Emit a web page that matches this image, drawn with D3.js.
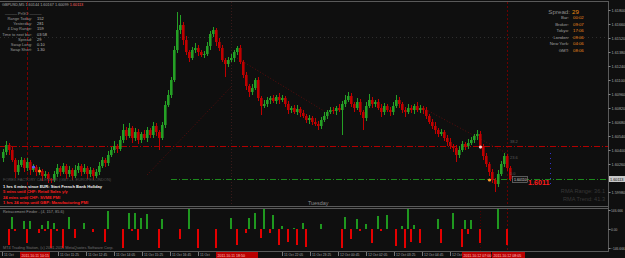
<!DOCTYPE html>
<html>
<head>
<meta charset="utf-8">
<script src="https://cdn.jsdelivr.net/npm/d3@7"></script>
<style>
  html, body { margin: 0; padding: 0; background: #0f0f0f; overflow: hidden; }
  svg { display: block; font-family: "Liberation Sans", Arial, sans-serif; }
</style>
</head>
<body>
<main></main>
<script>
// GBPUSD M5 candles (close prices, open = previous close)
const firstOpen = 1.6032;
const closes = [
  1.6038, 1.6045, 1.6040, 1.6030, 1.6018, 1.6025, 1.6030, 1.6022, 1.6028, 1.6020,
  1.6023, 1.6018, 1.6019, 1.6014, 1.6016, 1.6011, 1.6010, 1.6016, 1.6022, 1.6018,
  1.6024, 1.6016, 1.6020, 1.6014, 1.6020, 1.6024, 1.6018, 1.6022, 1.6016, 1.6020,
  1.6014, 1.6018, 1.6024, 1.6030, 1.6027, 1.6035, 1.6040, 1.6044, 1.6041, 1.6050,
  1.6060, 1.6054, 1.6062, 1.6052, 1.6058, 1.6050, 1.6056, 1.6052, 1.6060, 1.6055,
  1.6064, 1.6058, 1.6052, 1.6065, 1.6085, 1.6095, 1.6110, 1.6140, 1.6160, 1.6165,
  1.6150, 1.6138, 1.6132, 1.6140, 1.6142, 1.6138, 1.6135, 1.6136, 1.6144, 1.6156,
  1.6160, 1.6148, 1.6142, 1.6130, 1.6126, 1.6130, 1.6132, 1.6138, 1.6142, 1.6128,
  1.6115, 1.6104, 1.6098, 1.6102, 1.6110, 1.6092, 1.6084, 1.6086, 1.6090, 1.6092,
  1.6089, 1.6093, 1.6090, 1.6092, 1.6086, 1.6080, 1.6082, 1.6078, 1.6081, 1.6077,
  1.6074, 1.6070, 1.6072, 1.6068, 1.6066, 1.6064, 1.6070, 1.6074, 1.6078, 1.6080,
  1.6079, 1.6082, 1.6080, 1.6086, 1.6090, 1.6094, 1.6086, 1.6082, 1.6088, 1.6078,
  1.6072, 1.6084, 1.6090, 1.6086, 1.6088, 1.6082, 1.6078, 1.6084, 1.6080, 1.6078,
  1.6084, 1.6090, 1.6086, 1.6080, 1.6078, 1.6082, 1.6080, 1.6084, 1.6080, 1.6082,
  1.6080, 1.6074, 1.6068, 1.6064, 1.6060, 1.6056, 1.6058, 1.6052, 1.6048, 1.6044,
  1.6042, 1.6035, 1.6040, 1.6046, 1.6044, 1.6047, 1.6050, 1.6054, 1.6056, 1.6044,
  1.6034, 1.6026, 1.6018, 1.6010, 1.6006, 1.6016, 1.6026, 1.6034, 1.6022, 1.6011,
];
// wick lengths in pips above / below the body
const upWick = [
  3, 4, 2, 3, 2, 5, 3, 2, 4, 2, 3, 2, 4, 2, 3, 2, 1, 3, 4, 2,
  3, 2, 4, 2, 5, 3, 2, 4, 2, 3, 2, 3, 4, 3, 2, 4, 3, 5, 2, 4,
  6, 3, 5, 2, 4, 3, 2, 4, 3, 2, 4, 3, 2, 3, 4, 5, 3, 4, 18, 10,
  3, 4, 2, 3, 5, 3, 2, 3, 4, 3, 3, 2, 4, 3, 2, 3, 4, 2, 2, 3,
  2, 3, 2, 4, 2, 3, 2, 4, 3, 2, 3, 2, 4, 3, 2, 3, 2, 3, 4, 2,
  3, 2, 3, 2, 4, 3, 3, 4, 2, 3, 3, 2, 4, 3, 5, 4, 3, 2, 4, 3,
  2, 4, 6, 3, 2, 3, 4, 3, 2, 3, 4, 5, 3, 2, 3, 4, 3, 2, 4, 3,
  2, 3, 2, 3, 4, 2, 3, 2, 3, 4, 2, 3, 4, 3, 2, 4, 3, 2, 4, 3,
  2, 3, 2, 3, 2, 4, 3, 3, 2, 2,
];
const downWick = [
  4, 3, 5, 2, 6, 3, 2, 4, 3, 5, 2, 4, 3, 5, 2, 4, 3, 2, 3, 4,
  2, 5, 3, 4, 2, 3, 4, 2, 5, 3, 4, 2, 3, 2, 4, 3, 2, 3, 4, 2,
  3, 4, 2, 5, 3, 4, 3, 2, 4, 3, 3, 4, 12, 2, 3, 2, 3, 2, 3, 4,
  5, 3, 4, 2, 3, 4, 2, 3, 2, 4, 3, 4, 3, 2, 13, 3, 2, 4, 3, 2,
  3, 4, 5, 3, 2, 3, 9, 2, 3, 4, 2, 3, 4, 2, 3, 4, 3, 2, 3, 4,
  2, 3, 4, 3, 2, 4, 3, 2, 3, 2, 3, 4, 2, 25, 3, 2, 3, 4, 2, 3,
  12, 3, 2, 4, 3, 2, 5, 3, 2, 4, 3, 2, 4, 3, 5, 2, 3, 4, 2, 3,
  4, 3, 2, 3, 4, 3, 2, 3, 4, 3, 4, 7, 3, 2, 4, 3, 2, 3, 4, 3,
  4, 3, 4, 3, 8, 3, 2, 3, 3, 2,
];

// Retracement Finder histogram (bar index, value)
const histIndex = [
  2, 3, 4, 7, 8, 9, 12, 13, 14, 15, 16, 17, 18, 20, 22, 24, 27, 30, 34, 35,
  40, 42, 43, 44, 45, 46, 48, 52, 53, 59, 62, 65, 71, 76, 78, 81, 82, 84, 86, 87,
  89, 90, 92, 93, 95, 97, 98, 100, 101, 106, 113, 114, 116, 118, 119, 121, 123, 125, 126, 128,
  131, 133, 134, 135, 136, 137, 139, 145, 146, 150, 153, 154, 155, 156, 159, 165, 168,
];
const histValue = [
  -124, 93, -15, 62, -108, 62, -31, 31, -15, 62, -147, 46, -15, -147, 93, -70, 46, -23, -100, 139,
  -147, 124, -15, 124, -85, 85, 116, -147, 77, -77, 154, -147, -147, 85, -124, -31, 85, 124, -70, 154,
  -31, 108, -124, 23, -100, 8, -124, 46, -139, 39, -147, 93, -77, 77, -15, 39, -108, 100, -15, 108,
  -131, 23, -147, 154, -100, 31, -108, 77, -108, 124, -139, 70, -39, 70, -108, 154, -124,
];

const priceTicks = [1.618, 1.6166, 1.6152, 1.6138, 1.6124, 1.611, 1.6096, 1.6082,
  1.6068, 1.6054, 1.604, 1.6026, 1.5998];
const histTicks = [146.666, 0, -146.666];
const timeLabels = [
  "11 Oct 08:45", "11 Oct 10:05", "11 Oct 11:25", "11 Oct 12:45", "11 Oct 14:05",
  "11 Oct 15:25", "11 Oct 16:45", "11 Oct 18:05", "11 Oct 19:25", "11 Oct 20:45",
  "11 Oct 22:05", "11 Oct 23:25", "12 Oct 00:45", "12 Oct 02:05", "12 Oct 03:25",
  "12 Oct 04:45", "12 Oct 06:05", "12 Oct 07:25", "12 Oct 08:45",
];
const markedTimes = ["2011.10.11 10:15", "2011.10.11 18:50", "2011.10.12 07:00", "2011.10.12 08:05"];

const infoLabels = ["Range Today:", "Yesterday:", "4 Day Range:", "Time to next bar:", "Spread:", "Swap Long:", "Swap Short:"];
const infoValues = ["152", "281", "159", "03:58", "29", "0.10", "1.30"];
const sessionLabels = ["Bar:", "Broker:", "Tokyo:", "London:", "New York:", "GMT:"];
const sessionTimes = ["00:02", "09:07", "17:06", "09:06", "04:06", "08:06"];
const newsLines = [
  "1 hrs 6 mins since EUR: Start French Bank Holiday",
  "5 mins until CHF: Retail Sales y/y",
  "24 mins until CHF: SVME PMI",
  "1 hrs 24 mins until GBP: Manufacturing PMI",
];
const markerIndex = [10, 12, 159, 162];
const markerPrice = [1.6023, 1.6019, 1.6043, 1.601];
const markerColor = ["#5a5aff", "#ff8c1a", "#ffd0d0", "#ff9a2a"];
const fibLabels = ["38.2", "23.6", "0.0"];
const fibPrices = [1.6047, 1.6031, 1.6015];

const width = 625;
const height = 258;
const right = 608;

const svg = d3.select("main").append("svg")
  .attr("width", width).attr("height", height)
  .attr("viewBox", `0 0 ${width} ${height}`);
svg.append("rect").attr("width", width).attr("height", height).attr("fill", "#0f0f0f");

const defs = svg.append("defs");
defs.append("clipPath").attr("id", "clipMain")
  .append("rect").attr("x", 0).attr("y", 2).attr("width", right).attr("height", 204);
defs.append("clipPath").attr("id", "clipInd")
  .append("rect").attr("x", 0).attr("y", 208).attr("width", right).attr("height", 43);

const x = d3.scaleLinear().domain([0, closes.length - 1]).range([3, 510]);
const y = d3.scaleLinear().domain([1.5982, 1.6188]).range([208, 2]);
const yInd = d3.scaleLinear().domain([-146.666, 146.666]).range([248, 210]);

const candles = closes.map((c, i) => {
  const o = i === 0 ? firstOpen : closes[i - 1];
  return {
    i, o, c,
    h: Math.max(o, c) + upWick[i] / 10000,
    l: Math.min(o, c) - downWick[i] / 10000,
  };
});

const main = svg.append("g").attr("clip-path", "url(#clipMain)");

// faint dotted level
main.append("line")
  .attr("x1", 0).attr("x2", right)
  .attr("y1", Math.round(y(1.6153)) + 0.5).attr("y2", Math.round(y(1.6153)) + 0.5)
  .attr("stroke", "#2e2e2e").attr("stroke-dasharray", "1,3");

// vertical separators
[[8, "#7a0000", "3,2"], [76, "#3a1a1a", "1,2"], [168, "#6a0000", "2,2"]].forEach(([i, col, dash]) => {
  main.append("line")
    .attr("x1", x(i) + 0.5).attr("x2", x(i) + 0.5).attr("y1", 2).attr("y2", 206)
    .attr("stroke", col).attr("stroke-dasharray", dash);
});

// trend lines
const trends = [
  [48, 1.6015, 76, 1.6103],
  [78, 1.6132, 107, 1.6079],
  [140, 1.6082, 169, 1.6035],
];
main.selectAll(".trend").data(trends).enter().append("line")
  .attr("class", "trend")
  .attr("x1", (d) => x(d[0])).attr("y1", (d) => y(d[1]))
  .attr("x2", (d) => x(d[2])).attr("y2", (d) => y(d[3]))
  .attr("stroke", "#5c0c0c").attr("stroke-dasharray", "1,2");

// horizontal levels
main.append("line")
  .attr("x1", 0).attr("x2", right)
  .attr("y1", Math.round(y(1.6044)) + 0.5).attr("y2", Math.round(y(1.6044)) + 0.5)
  .attr("stroke", "#b00000").attr("stroke-dasharray", "6,2,1,2");
main.append("line")
  .attr("x1", x(56)).attr("x2", right)
  .attr("y1", Math.round(y(1.6011)) + 0.5).attr("y2", Math.round(y(1.6011)) + 0.5)
  .attr("stroke", "#1c8a1c").attr("stroke-dasharray", "6,2,1,2");

// blue dotted vertical
main.append("line")
  .attr("x1", 550.5).attr("x2", 550.5).attr("y1", 153).attr("y2", 186)
  .attr("stroke", "#3434d0").attr("stroke-dasharray", "1,4");

// candles
const up = "#25a025";
const down = "#c00000";
const cg = main.append("g");
cg.selectAll(".wick").data(candles).enter().append("rect")
  .attr("class", "wick")
  .attr("x", (d) => x(d.i))
  .attr("y", (d) => Math.round(y(d.h)))
  .attr("width", 1)
  .attr("height", (d) => Math.max(1, Math.round(y(d.l)) - Math.round(y(d.h))))
  .attr("fill", (d) => (d.c >= d.o ? up : down));
cg.selectAll(".body").data(candles).enter().append("rect")
  .attr("class", "body")
  .attr("x", (d) => x(d.i) - 1)
  .attr("y", (d) => Math.round(y(Math.max(d.o, d.c))))
  .attr("width", 2.6)
  .attr("height", (d) => Math.max(1, Math.round(y(Math.min(d.o, d.c))) - Math.round(y(Math.max(d.o, d.c)))))
  .attr("fill", (d) => (d.c >= d.o ? up : down));

// markers
main.selectAll(".marker").data(markerIndex).enter().append("circle")
  .attr("class", "marker")
  .attr("cx", (d) => x(d) + 0.5)
  .attr("cy", (d, i) => y(markerPrice[i]))
  .attr("r", 1.6)
  .attr("fill", (d, i) => markerColor[i]);

// fib labels
main.selectAll(".fib").data(fibLabels).enter().append("text")
  .attr("class", "fib")
  .attr("x", x(closes.length - 1))
  .attr("y", (d, i) => y(fibPrices[i]))
  .attr("font-size", 4).attr("fill", "#5a5a5a").text((d) => d);

// last price tag next to candles
const lastY = Math.round(y(closes[closes.length - 1]));
main.append("rect").attr("x", 512.5).attr("y", lastY - 2.5).attr("width", 15).attr("height", 6)
  .attr("fill", "#141414").attr("stroke", "#8a8a8a").attr("stroke-width", 0.6);
main.append("text").attr("x", 514).attr("y", lastY + 2)
  .attr("font-size", 3.6).attr("fill", "#ddd").text("1.60110");
main.append("text").attr("x", 528).attr("y", lastY + 6)
  .attr("font-size", 7.2).attr("font-weight", "bold").attr("fill", "#ff1c1c").text("1.6011");

// RMA texts
main.append("text").attr("x", 605).attr("y", 193).attr("text-anchor", "end")
  .attr("font-size", 5.6).attr("fill", "#383838").text("RMA Range: 36.1");
main.append("text").attr("x", 605).attr("y", 201).attr("text-anchor", "end")
  .attr("font-size", 5.6).attr("fill", "#383838").text("RMA Trend: 41.3");

// header
const head = svg.append("text").attr("x", 2).attr("y", 6).attr("font-size", 3.8).attr("fill", "#a8a8a8");
head.append("tspan").text("GBPUSD,M5  1.60144  1.60167  1.60099  ");
head.append("tspan").attr("fill", "#ff6060").text("1.60113");

// info box
svg.append("text").attr("x", 5).attr("y", 15).attr("font-size", 4).attr("fill", "#9a9a9a")
  .text("———   PrGO   ———");
svg.selectAll(".infoL").data(infoLabels).enter().append("text")
  .attr("class", "infoL")
  .attr("x", 32).attr("y", (d, i) => 20 + i * 5.2)
  .attr("text-anchor", "end").attr("font-size", 4).attr("fill", "#9a9a9a").text((d) => d);
svg.selectAll(".infoV").data(infoValues).enter().append("text")
  .attr("class", "infoV")
  .attr("x", 37).attr("y", (d, i) => 20 + i * 5.2)
  .attr("font-size", 4).attr("fill", "#bdbdbd").text((d) => d);

// session box
svg.append("text").attr("x", 570).attr("y", 14).attr("text-anchor", "end")
  .attr("font-size", 6.2).attr("fill", "#8c8c8c").text("Spread:");
svg.append("text").attr("x", 572).attr("y", 14)
  .attr("font-size", 6.2).attr("fill", "#e88a10").text("29");
svg.selectAll(".sesL").data(sessionLabels).enter().append("text")
  .attr("class", "sesL")
  .attr("x", 569).attr("y", (d, i) => 19 + i * 6.5)
  .attr("text-anchor", "end").attr("font-size", 4.3).attr("fill", "#a0a0a0").text((d) => d);
svg.selectAll(".sesV").data(sessionTimes).enter().append("text")
  .attr("class", "sesV")
  .attr("x", 573).attr("y", (d, i) => 19 + i * 6.5)
  .attr("font-size", 4.3).attr("fill", "#ee8c1c").text((d) => d);

// calendar news
svg.append("text").attr("x", 3).attr("y", 181).attr("font-size", 3.9).attr("fill", "#505050")
  .text("FOREX FACTORY CALENDAR (GMT+1, EUROPE/LONDON)");
svg.selectAll(".news").data(newsLines).enter().append("text")
  .attr("class", "news")
  .attr("x", 3).attr("y", (d, i) => 188 + i * 5.3)
  .attr("font-size", 4.1).attr("font-weight", "bold")
  .attr("fill", (d, i) => (i === 0 ? "#f2f2f2" : "#ff1e1e")).text((d) => d);

svg.append("text").attr("x", 308).attr("y", 205).attr("font-size", 5.4).attr("fill", "#8a8a8a").text("Tuesday");

// indicator panel
const ind = svg.append("g").attr("clip-path", "url(#clipInd)");
ind.append("line").attr("x1", x(159) + 0.5).attr("x2", x(159) + 0.5).attr("y1", 208).attr("y2", 251)
  .attr("stroke", "#4a0000").attr("stroke-dasharray", "1,2");
ind.append("line").attr("x1", x(168) + 0.5).attr("x2", x(168) + 0.5).attr("y1", 208).attr("y2", 251)
  .attr("stroke", "#6a0000").attr("stroke-dasharray", "2,2");
ind.selectAll(".hist").data(histIndex).enter().append("rect")
  .attr("class", "hist")
  .attr("x", (d) => x(d) - 1)
  .attr("width", 2)
  .attr("y", (d, i) => Math.round(yInd(Math.max(0, histValue[i]))))
  .attr("height", (d, i) => Math.round(Math.abs(yInd(histValue[i]) - yInd(0))))
  .attr("fill", (d, i) => (histValue[i] >= 0 ? "#1f981f" : "#e40000"));
svg.append("text").attr("x", 3).attr("y", 213).attr("font-size", 3.9).attr("fill", "#959595")
  .text("Retracement Finder - (4, 157, 85.6)");
svg.append("text").attr("x", 3).attr("y", 249).attr("font-size", 3.9).attr("fill", "#707070")
  .text("MT4 Trading Station, (c) 2001-2011 MetaQuotes Software Corp.");

// panel borders
const border = svg.append("g").attr("stroke", "#5a5a5a").attr("fill", "none");
border.append("line").attr("x1", 0).attr("x2", right + 1).attr("y1", 1.5).attr("y2", 1.5);
border.append("line").attr("x1", 0).attr("x2", right + 1).attr("y1", 206.5).attr("y2", 206.5);
border.append("line").attr("x1", 0).attr("x2", right + 1).attr("y1", 208.5).attr("y2", 208.5);
border.append("line").attr("x1", 0).attr("x2", right + 1).attr("y1", 251.5).attr("y2", 251.5);
border.append("line").attr("x1", right + 0.5).attr("x2", right + 0.5).attr("y1", 1).attr("y2", 252);

// price axis
const priceAxis = svg.append("g")
  .attr("transform", `translate(${right + 0.5},0)`)
  .call(d3.axisRight(y).tickValues(priceTicks).tickSize(2).tickPadding(1).tickFormat(d3.format(".5f")));
const indAxis = svg.append("g")
  .attr("transform", `translate(${right + 0.5},0)`)
  .call(d3.axisRight(yInd).tickValues(histTicks).tickSize(2).tickPadding(0.5)
    .tickFormat((d) => (d === 0 ? "0.00" : d3.format(".3f")(d))));
[priceAxis, indAxis].forEach((a) => {
  a.select(".domain").remove();
  a.selectAll("line").attr("stroke", "#888");
  a.selectAll("text").attr("font-size", 3.8).attr("fill", "#a8a8a8")
    .attr("font-family", "Liberation Sans, Arial, sans-serif");
});
indAxis.selectAll("text").attr("font-size", 3.3);

// current price on axis
svg.append("rect").attr("x", right + 1).attr("y", lastY - 3).attr("width", 17).attr("height", 6).attr("fill", "#c8c8c8");
svg.append("text").attr("x", right + 2).attr("y", lastY + 1.5).attr("font-size", 3.8).attr("fill", "#111").text("1.60113");

// time axis with highlighted boxes on top
const boxes = [[20, 30], [216, 42], [462, 29], [492, 33]];
const tx = d3.scalePoint().domain(timeLabels).range([2, 2 + 28 * (timeLabels.length - 1)]);
const visible = timeLabels.filter((d) => {
  const a = tx(d) + 2;
  return !boxes.some(([bx, bw]) => a > bx - 2 && a < bx + bw);
});
const tg = svg.append("g");
tg.selectAll("line").data(visible).enter().append("line")
  .attr("x1", (d) => tx(d) + 0.5).attr("x2", (d) => tx(d) + 0.5)
  .attr("y1", 252).attr("y2", 256).attr("stroke", "#777");
tg.selectAll("text").data(visible).enter().append("text")
  .attr("x", (d) => tx(d) + 2).attr("y", 256)
  .attr("font-size", 3.4).attr("fill", "#a8a8a8").text((d) => d)
  .each(function (d) {
    // a label running into a marked box only shows its date
    const start = tx(d) + 2;
    const nextBox = boxes.map((b) => b[0]).filter((bx) => bx > start).sort((a, b) => a - b)[0];
    if (nextBox !== undefined && start + this.getComputedTextLength() > nextBox - 1) {
      d3.select(this).text(d.slice(0, 6));
    }
  });

boxes.forEach(([bx, bw], i) => {
  svg.append("rect").attr("x", bx).attr("y", 252).attr("width", bw).attr("height", 6).attr("fill", "#b80000");
  svg.append("text").attr("x", bx + 1.5).attr("y", 256.5).attr("font-size", 3.6).attr("fill", "#ffc8c8").text(markedTimes[i]);
});
</script>
</body>
</html>
